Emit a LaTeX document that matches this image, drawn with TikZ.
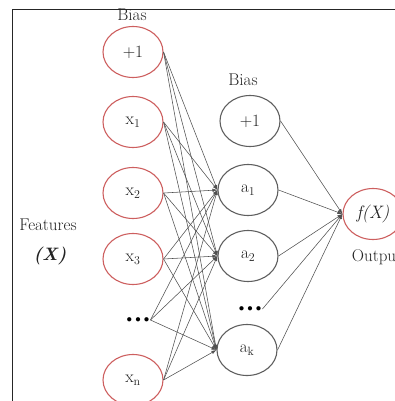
\documentclass[tikz,border=0pt]{standalone}
\usetikzlibrary{shapes.geometric,arrows.meta}
\definecolor{nred}{RGB}{205,95,95}
\definecolor{ngray}{RGB}{95,95,95}
\definecolor{lgray}{RGB}{80,80,80}
\definecolor{tgray}{RGB}{35,35,35}
\newcommand{\mydots}{$\bullet\mkern1mu\bullet\mkern1mu\bullet$}
\begin{document}
\begin{tikzpicture}[x=1pt,y=-1pt,
  neuron/.style={ellipse,draw,line width=1.1pt,minimum width=60pt,minimum height=51pt,inner sep=0pt,text=tgray,font=\fontsize{18}{20}\selectfont},
  inneuron/.style={neuron,draw=nred},
  hidneuron/.style={neuron,draw=ngray},
  lab/.style={text=tgray,font=\fontsize{17}{20}\selectfont,inner sep=0pt},
  conn/.style={draw=lgray,line width=0.55pt,-{Latex[length=5pt,width=3.5pt]}},
  dotsn/.style={inner sep=1pt,text=black,font=\fontsize{11}{12}\selectfont}
]
\useasboundingbox (0,0) rectangle (395,401);
\draw[line width=1.8pt,black!85] (12.5,401) -- (12.5,9.5) -- (395,9.5);

% input layer
\node[lab] (bias1) at (132,15) {Bias};
\node[inneuron] (i0) at (133,52) {$+1$};
\node[inneuron] (i1) at (133,122) {$\mathrm{x}_1$};
\node[inneuron] (i2) at (133,193) {$\mathrm{x}_2$};
\node[inneuron] (i3) at (133,259) {$\mathrm{x}_3$};
\node[dotsn] (id) at (138,320) {\mydots};
\node[inneuron] (in) at (133,380) {$\mathrm{x}_\mathrm{n}$};

\node[lab] (feat) at (48,225) {Features};
\node[lab,font=\fontsize{18}{20}\selectfont\itshape\bfseries] (fx) at (50,256) {(X)};

% hidden layer
\node[lab] (bias2) at (243,80) {Bias};
\node[hidneuron] (h0) at (250,121) {$+1$};
\node[hidneuron] (h1) at (248,190) {$\mathrm{a}_1$};
\node[hidneuron] (h2) at (248,256) {$\mathrm{a}_2$};
\node[dotsn] (hd) at (250,309) {\mydots};
\node[hidneuron] (hk) at (247,350) {$\mathrm{a}_\mathrm{k}$};

% output
\node[inneuron] (out) at (373,214) {\textit{f(X)}};
\node[lab] (outl) at (377,257) {Output};

% connections input -> hidden
\foreach \s in {i0,i1,i2,i3,in}{
  \foreach \t in {h1,h2,hk}{
    \draw[conn] (\s.east) -- (\t.west);
  }
}
\foreach \t in {h1,h2,hk}{
  \draw[conn] (id.east) -- (\t.west);
}
% hidden -> output
\foreach \s in {h0,h1,h2,hk}{
  \draw[conn] (\s.east) -- (out.west);
}
\draw[conn] (hd.east) -- (out.west);
\end{tikzpicture}
\end{document}
